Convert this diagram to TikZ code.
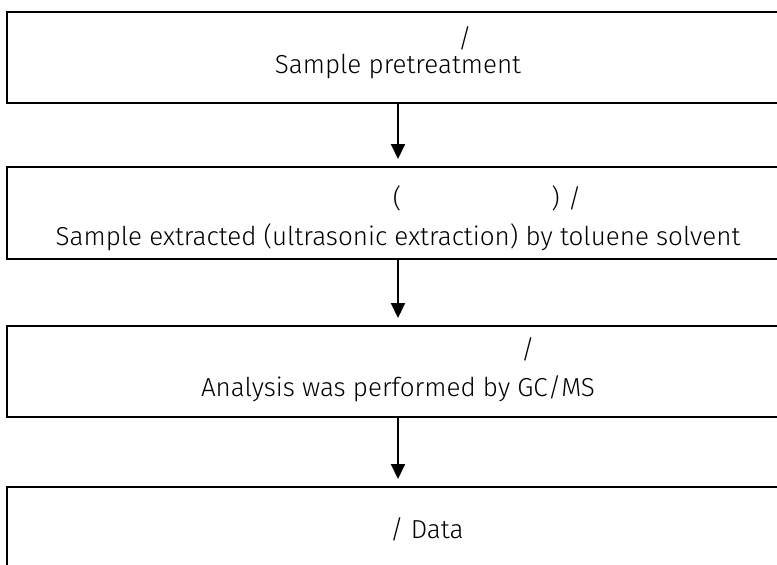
\documentclass[tikz,border=0pt]{standalone}
\usepackage{fontspec}
\setmainfont{Fira Sans}[UprightFont=* Light]
\usetikzlibrary{positioning}
\usetikzlibrary{arrows.meta}

\tikzset{
  stepbox/.style={draw, line width=2pt, outer sep=0pt, inner sep=0pt,
    minimum width=782pt, minimum height=91pt, align=center,
    font=\fontsize{26}{28}\selectfont},
  flowarrow/.style={-{Triangle[width=14pt,length=15pt]}, line width=2pt,
    shorten >=8pt}
}

\begin{document}
\begin{tikzpicture}
\useasboundingbox (0,0) rectangle (777pt,-565pt);
% Sample pretreatment
\node[stepbox] (pretreat) at (398pt,-57.5pt)
  {\strut\makebox[0pt][l]{\hspace*{60pt}/}\\[-2pt]
   \strut\rule[-14.4pt]{0pt}{1pt}Sample pretreatment};

% Extraction
\node[stepbox,
    minimum height=92pt,
    below=64pt of pretreat
] (extract)
  {\rule{0pt}{34.4pt}\makebox[0pt][l]{\hspace*{-5pt}(\hspace*{150pt})\hspace*{8pt}/}\\[10pt]
   \strut Sample extracted (ultrasonic extraction) by toluene solvent};

% GC/MS analysis
\node[stepbox,
    below=67pt of extract
] (analysis)
  {\strut\makebox[0pt][l]{\hspace*{123pt}/}\\[8pt]
   \strut Analysis was performed by GC/MS};

% Data
\node[stepbox,
    below=70pt of analysis
] (data)
  {\strut\makebox[0pt][l]{\hspace*{-8pt}/ Data}};

% Arrows
\draw[flowarrow] (pretreat.south) -- (extract.north);
\draw[flowarrow] (extract.south) -- (analysis.north);
\draw[flowarrow] (analysis.south) -- (data.north);

\end{tikzpicture}
\end{document}
